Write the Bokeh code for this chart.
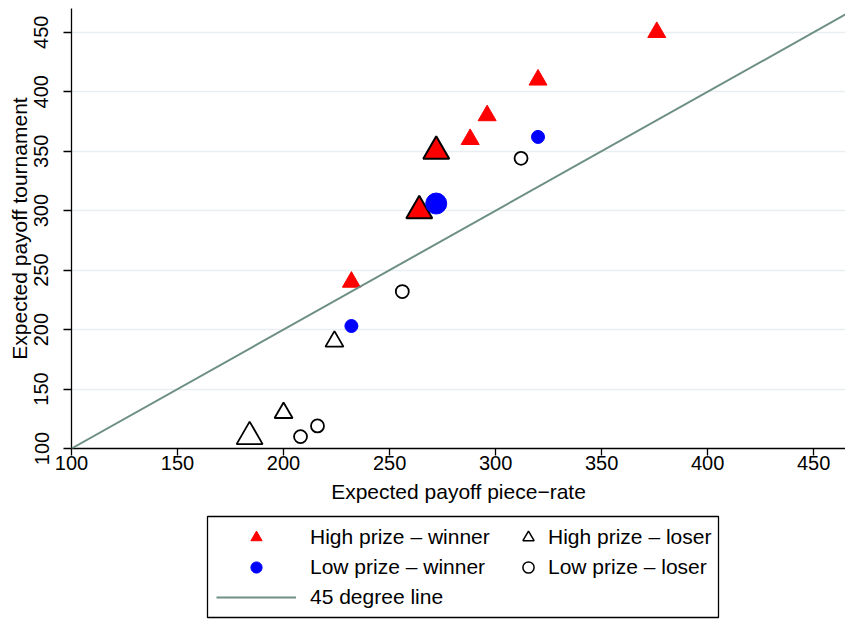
from bokeh.plotting import figure
from bokeh.models import Range1d, FixedTicker, Slope, Legend, LegendItem, BoxAnnotation
from bokeh.layouts import column
from bokeh.embed import file_html
from bokeh.resources import INLINE

# ---- data ----
hw_x = [232, 288, 296, 320, 376]          # High prize - winner
hw_y = [240, 360, 380, 410, 450]
hw_big_x = [264, 272]
hw_big_y = [300, 350]
lw_x = [232, 320]                          # Low prize - winner
lw_y = [203, 362]
lw_big_x = [272]
lw_big_y = [306]
hl_x = [200, 224]                          # High prize - loser
hl_y = [130, 190]
hl_big_x = [184]
hl_big_y = [110]
ll_x = [208, 216, 256, 312]                # Low prize - loser
ll_y = [110, 119, 232, 344]
ticks = [100, 150, 200, 250, 300, 350, 400, 450]

FONT = "Liberation Sans"
LINE_COL = "#6e8f84"

p = figure(width=845, height=510, x_range=Range1d(100, 465), y_range=Range1d(100, 470),
           output_backend="svg", toolbar_location=None,
           min_border_left=71, min_border_right=0, min_border_top=8, min_border_bottom=62)
p.outline_line_color = None
p.xgrid.visible = False
p.ygrid.grid_line_color = "#e9eff1"
p.ygrid.grid_line_width = 1.6
for ax in (p.xaxis[0], p.yaxis[0]):
    ax.ticker = FixedTicker(ticks=ticks)
    ax.minor_tick_line_color = None
    ax.major_tick_in = 0
    ax.axis_line_color = "black"
    ax.major_tick_line_color = "black"
    ax.axis_line_width = 1.3
    ax.major_tick_line_width = 1.3
    ax.major_label_text_font = FONT
    ax.major_label_text_font_size = "20px"
    ax.major_label_text_color = "black"
    ax.axis_label_text_font = FONT
    ax.axis_label_text_font_size = "21px"
    ax.axis_label_text_font_style = "normal"
    ax.axis_label_text_color = "black"
p.xaxis.axis_label = "Expected payoff piece\u2212rate"
p.yaxis.axis_label = "Expected payoff tournament"
p.xaxis.major_tick_out = 7
p.yaxis.major_tick_out = 8
p.xaxis.major_label_standoff = 0
p.yaxis.major_label_standoff = 15
p.yaxis.major_label_orientation = "vertical"
p.xaxis.axis_label_standoff = 7
p.yaxis.axis_label_standoff = 1

p.add_layout(Slope(gradient=1, y_intercept=0, line_color=LINE_COL, line_width=2))

p.scatter(hw_x, hw_y, marker="triangle", size=18, fill_color="red", line_color="red")
p.scatter(hw_big_x, hw_big_y, marker="triangle", size=26, fill_color="red", line_color="black", line_width=2)
p.scatter(lw_x, lw_y, marker="circle", size=13, fill_color="blue", line_color="blue")
p.scatter(lw_big_x, lw_big_y, marker="circle", size=21, fill_color="blue", line_color="blue")
p.scatter(hl_x, hl_y, marker="triangle", size=18, fill_color=None, line_color="black", line_width=1.8)
p.scatter(hl_big_x, hl_big_y, marker="triangle", size=26, fill_color=None, line_color="black", line_width=1.8)
p.scatter(ll_x, ll_y, marker="circle", size=13, fill_color=None, line_color="black", line_width=1.8)

# ---- legend panel (pixel-scaled ranges: x = page x, y = page y) ----
p2 = figure(width=845, height=110, x_range=Range1d(71, 845), y_range=Range1d(620, 510),
            output_backend="svg", toolbar_location=None,
            x_axis_location=None, y_axis_location=None,
            min_border_left=71, min_border_right=0, min_border_top=0, min_border_bottom=0)
p2.xgrid.visible = False
p2.ygrid.visible = False
p2.outline_line_color = None

p2.add_layout(BoxAnnotation(left=207, right=718, top=516, bottom=617,
                            fill_alpha=0, line_color="black", line_width=1.3, line_alpha=1))

# legend proxies (hidden renderers of the same series)
r_hw = p2.scatter(hw_x, hw_y, marker="triangle", fill_color="red", line_color="red", visible=False)
r_lw = p2.scatter(lw_x, lw_y, marker="circle", fill_color="blue", line_color="blue", visible=False)
r_ln = p2.line(ticks, ticks, line_color=LINE_COL, line_width=2, visible=False)
r_hl = p2.scatter(hl_x, hl_y, marker="triangle", fill_color=None, line_color="black", line_width=1.5, visible=False)
r_ll = p2.scatter(ll_x, ll_y, marker="circle", fill_color=None, line_color="black", line_width=1.5, visible=False)

def mk_legend(items, loc, gw, standoff):
    return Legend(items=items, location=loc, glyph_width=gw, glyph_height=28, spacing=2,
                  padding=6, margin=0, label_standoff=standoff,
                  label_text_font=FONT, label_text_font_size="21px", label_text_color="black",
                  border_line_color=None, background_fill_alpha=0,
                  inactive_fill_alpha=0, click_policy="none")

legA = mk_legend([LegendItem(label="High prize \u2013 winner", renderers=[r_hw]),
                  LegendItem(label="Low prize \u2013 winner", renderers=[r_lw]),
                  LegendItem(label="45 degree line", renderers=[r_ln])], (145, 9), 80, 14)
legB = mk_legend([LegendItem(label="High prize \u2013 loser", renderers=[r_hl]),
                  LegendItem(label="Low prize \u2013 loser", renderers=[r_ll])], (443, 39), 28, 6)
p2.add_layout(legA)
p2.add_layout(legB)

layout = column(p, p2, spacing=0)
open("out.html", "w").write(file_html(layout, INLINE))
